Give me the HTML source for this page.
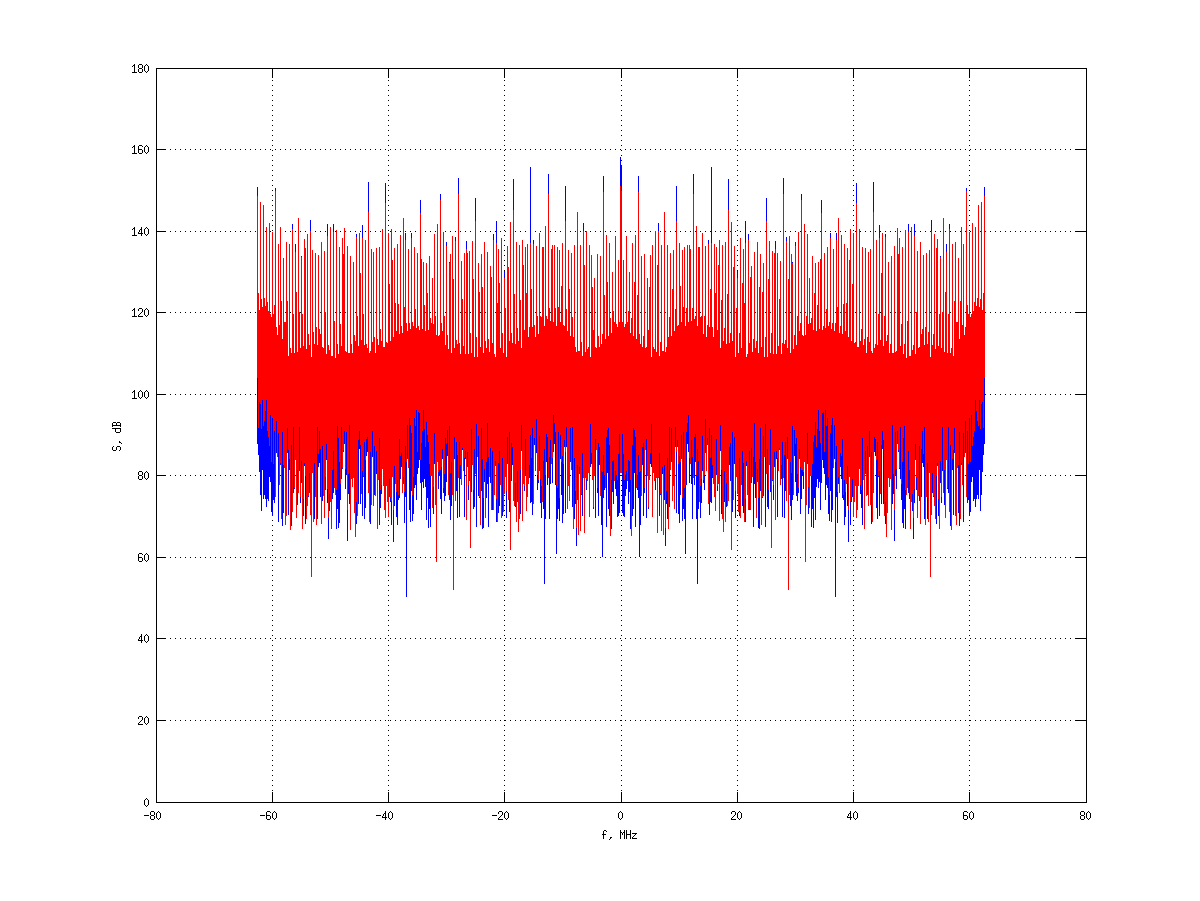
<!DOCTYPE html>
<html><head><meta charset="utf-8"><style>
html,body{margin:0;padding:0;background:#fff;width:1200px;height:901px;overflow:hidden}
svg{display:block}
</style></head><body>
<svg width="1200" height="901" viewBox="0 0 1200 901" shape-rendering="crispEdges">
<rect width="1200" height="901" fill="#fff"/>
<path d="M170 720.5H1071M170 638.5H1071M170 557.5H1071M170 475.5H1071M170 394.5H1071M170 312.5H1071M170 231.5H1071M170 149.5H1071M272.5 80V791M388.5 80V791M504.5 80V791M621.5 80V791M737.5 80V791M853.5 80V791M969.5 80V791" stroke="#000" stroke-width="1" stroke-dasharray="1 4" fill="none"/>
<path d="M257.5 187V444M258.5 306V455M259.5 318V472M260.5 250V495M261.5 312V511M262.5 315V470M263.5 252V499M264.5 310V495M265.5 314V499M266.5 231V507M267.5 314V499M268.5 319V501M269.5 227V477M270.5 326V482M271.5 325V512M272.5 236V516M273.5 326V500M274.5 313V503M275.5 188V497M276.5 339V453M277.5 343V456M278.5 248V522M279.5 337V464M280.5 256V465M281.5 314V457M282.5 348V526M283.5 262V513M284.5 334V449M285.5 330V514M286.5 246V486M287.5 313V453M288.5 364V515M289.5 249V470M290.5 360V517M291.5 361V526M292.5 224V475M293.5 326V493M294.5 361V489M295.5 244V460M296.5 304V459M297.5 360V505M298.5 222V458M299.5 324V471M300.5 356V503M301.5 256V483M302.5 326V446M303.5 355V516M304.5 243V466M305.5 260V524M306.5 357V449M307.5 238V449M308.5 346V497M309.5 353V493M310.5 220V452M311.5 369V491M312.5 254V445M313.5 345V506M314.5 353V519M315.5 257V487M316.5 339V514M317.5 354V519M318.5 259V467M319.5 342V463M320.5 342V497M321.5 246V520M322.5 360V501M323.5 356V472M324.5 255V490M325.5 324V490M326.5 362V460M327.5 224V503M328.5 357V539M329.5 359V511M330.5 244V456M331.5 368V490M332.5 364V499M333.5 224V493M334.5 334V463M335.5 366V449M336.5 234V529M337.5 356V509M338.5 362V528M339.5 251V523M340.5 336V500M341.5 354V479M342.5 242V469M343.5 266V452M344.5 232V444M345.5 363V489M346.5 361V475M347.5 250V541M348.5 366V494M349.5 361V504M350.5 260V473M351.5 356V455M352.5 362V480M353.5 266V465M354.5 348V478M355.5 349V508M356.5 234V524M357.5 328V464M358.5 354V504M359.5 237V449M360.5 285V504M361.5 348V476M362.5 225V516M363.5 327V477M364.5 353V519M365.5 244V508M366.5 356V456M367.5 356V452M368.5 182V452M369.5 366V485M370.5 360V524M371.5 253V454M372.5 354V457M373.5 252V444M374.5 349V495M375.5 361V478M376.5 252V474M377.5 351V484M378.5 353V466M379.5 252V525M380.5 341V508M381.5 349V494M382.5 268V458M383.5 359V479M384.5 355V448M385.5 183V496M386.5 354V449M387.5 351V482M388.5 237V481M389.5 296V497M390.5 350V502M391.5 233V525M392.5 273V464M393.5 345V542M394.5 253V506M395.5 315V445M396.5 339V517M397.5 248V525M398.5 317V500M399.5 342V498M400.5 239V479M401.5 339V467M402.5 341V465M403.5 237V484M404.5 319V523M405.5 233V497M406.5 335V597M407.5 339V459M408.5 253V447M409.5 335V510M410.5 337V522M411.5 233V491M412.5 335V521M413.5 334V514M414.5 251V488M415.5 322V485M416.5 336V500M417.5 257V474M418.5 338V468M419.5 338V460M420.5 200V483M421.5 271V510M422.5 337V482M423.5 266V488M424.5 317V479M425.5 339V487M426.5 267V520M427.5 305V498M428.5 338V528M429.5 260V509M430.5 331V527M431.5 331V448M432.5 282V486M433.5 336V514M434.5 238V464M435.5 328V497M436.5 344V455M437.5 228V451M438.5 348V489M439.5 343V476M440.5 194V499M441.5 335V514M442.5 339V459M443.5 236V493M444.5 329V501M445.5 354V496M446.5 242V482M447.5 347V456M448.5 358V488M449.5 262V500M450.5 266V520M451.5 361V506M452.5 240V447M453.5 291V485M454.5 356V459M455.5 237V481M456.5 352V491M457.5 352V518M458.5 178V450M459.5 356V517M460.5 362V479M461.5 265V449M462.5 312V450M463.5 354V460M464.5 258V517M465.5 366V459M466.5 241V507M467.5 266V467M468.5 362V500M469.5 255V481M470.5 345V521M471.5 361V492M472.5 245V448M473.5 291V509M474.5 365V507M475.5 198V474M476.5 349V527M477.5 366V455M478.5 267V496M479.5 304V498M480.5 355V516M481.5 258V491M482.5 300V529M483.5 361V528M484.5 246V482M485.5 354V464M486.5 356V498M487.5 256V484M488.5 352V527M489.5 360V476M490.5 270V483M491.5 289V483M492.5 351V510M493.5 234V498M494.5 366V446M495.5 365V466M496.5 221V522M497.5 315V508M498.5 253V513M499.5 296V506M500.5 356V480M501.5 242V494M502.5 345V516M503.5 361V461M504.5 271V447M505.5 320V468M506.5 365V518M507.5 250V464M508.5 279V457M509.5 350V512M510.5 226V503M511.5 346V481M512.5 352V465M513.5 179V493M514.5 306V461M515.5 352V507M516.5 246V463M517.5 340V502M518.5 350V454M519.5 249V479M520.5 312V514M521.5 356V451M522.5 244V464M523.5 278V446M524.5 338V491M525.5 251V475M526.5 306V507M527.5 248V494M528.5 349V479M529.5 335V478M530.5 167V503M531.5 301V502M532.5 335V515M533.5 240V466M534.5 337V445M535.5 345V454M536.5 250V453M537.5 328V490M538.5 342V483M539.5 237V471M540.5 328V503M541.5 325V518M542.5 251V500M543.5 259V509M544.5 334V584M545.5 230V519M546.5 328V462M547.5 327V485M548.5 174V449M549.5 320V519M550.5 329V484M551.5 253V457M552.5 258V483M553.5 330V452M554.5 250V444M555.5 320V485M556.5 334V554M557.5 251V519M558.5 320V509M559.5 254V521M560.5 335V459M561.5 294V495M562.5 247V523M563.5 338V514M564.5 334V447M565.5 186V513M566.5 321V447M567.5 339V472M568.5 254V445M569.5 302V496M570.5 344V462M571.5 257V462M572.5 329V507M573.5 345V459M574.5 249V519M575.5 360V504M576.5 361V546M577.5 216V500M578.5 363V496M579.5 359V474M580.5 249V516M581.5 355V495M582.5 364V516M583.5 223V451M584.5 278V527M585.5 360V458M586.5 235V490M587.5 361V479M588.5 355V444M589.5 249V514M590.5 370V467M591.5 260V464M592.5 299V475M593.5 338V509M594.5 282V455M595.5 359V518M596.5 356V445M597.5 258V493M598.5 348V516M599.5 355V465M600.5 260V486M601.5 356V525M602.5 342V557M603.5 176V498M604.5 308V490M605.5 347V454M606.5 239V527M607.5 294V473M608.5 344V509M609.5 247V516M610.5 330V478M611.5 341V529M612.5 276V492M613.5 323V504M614.5 330V479M615.5 240V489M616.5 336V496M617.5 335V517M618.5 264V516M619.5 334V513M620.5 157V456M621.5 165V456M622.5 334V513M623.5 264V516M624.5 335V517M625.5 336V496M626.5 240V489M627.5 330V479M628.5 323V504M629.5 276V492M630.5 341V529M631.5 330V478M632.5 247V516M633.5 344V509M634.5 294V473M635.5 239V527M636.5 347V454M637.5 308V490M638.5 176V498M639.5 342V557M640.5 356V525M641.5 260V486M642.5 355V465M643.5 348V516M644.5 258V493M645.5 356V445M646.5 359V518M647.5 282V455M648.5 338V509M649.5 299V475M650.5 260V464M651.5 370V467M652.5 249V514M653.5 355V444M654.5 361V479M655.5 235V490M656.5 360V458M657.5 278V527M658.5 223V451M659.5 364V516M660.5 355V495M661.5 249V516M662.5 359V474M663.5 363V496M664.5 216V500M665.5 361V546M666.5 360V504M667.5 249V519M668.5 345V459M669.5 329V507M670.5 257V462M671.5 344V462M672.5 302V496M673.5 254V445M674.5 339V472M675.5 321V447M676.5 186V513M677.5 334V447M678.5 338V514M679.5 247V523M680.5 294V495M681.5 335V459M682.5 254V521M683.5 320V509M684.5 251V519M685.5 334V554M686.5 320V485M687.5 250V444M688.5 330V452M689.5 258V483M690.5 253V457M691.5 329V484M692.5 320V519M693.5 174V449M694.5 327V485M695.5 328V462M696.5 230V519M697.5 334V584M698.5 259V509M699.5 251V500M700.5 325V518M701.5 328V503M702.5 237V471M703.5 342V483M704.5 328V490M705.5 250V453M706.5 345V454M707.5 337V445M708.5 240V466M709.5 335V515M710.5 301V502M711.5 167V503M712.5 335V478M713.5 349V479M714.5 248V494M715.5 306V507M716.5 251V475M717.5 338V491M718.5 278V446M719.5 244V464M720.5 356V451M721.5 312V514M722.5 249V479M723.5 350V454M724.5 340V502M725.5 246V463M726.5 352V507M727.5 306V461M728.5 179V493M729.5 352V465M730.5 346V481M731.5 226V503M732.5 350V512M733.5 279V457M734.5 250V464M735.5 365V518M736.5 320V468M737.5 271V447M738.5 361V461M739.5 345V516M740.5 242V494M741.5 356V480M742.5 296V506M743.5 253V513M744.5 315V508M745.5 221V522M746.5 365V466M747.5 366V446M748.5 234V498M749.5 351V510M750.5 289V483M751.5 270V483M752.5 360V476M753.5 352V527M754.5 256V484M755.5 356V498M756.5 354V464M757.5 246V482M758.5 361V528M759.5 300V529M760.5 258V491M761.5 355V516M762.5 304V498M763.5 267V496M764.5 366V455M765.5 349V527M766.5 198V474M767.5 365V507M768.5 291V509M769.5 245V448M770.5 361V492M771.5 345V521M772.5 255V481M773.5 362V500M774.5 266V467M775.5 241V507M776.5 366V459M777.5 258V517M778.5 354V460M779.5 312V450M780.5 265V449M781.5 362V479M782.5 356V517M783.5 178V450M784.5 352V518M785.5 352V491M786.5 237V481M787.5 356V459M788.5 291V485M789.5 240V447M790.5 361V506M791.5 266V520M792.5 262V500M793.5 358V488M794.5 347V456M795.5 242V482M796.5 354V496M797.5 329V501M798.5 236V493M799.5 339V459M800.5 335V514M801.5 194V499M802.5 343V476M803.5 348V489M804.5 228V451M805.5 344V455M806.5 328V497M807.5 238V464M808.5 336V514M809.5 282V486M810.5 331V448M811.5 331V527M812.5 260V509M813.5 338V528M814.5 305V498M815.5 267V520M816.5 339V487M817.5 317V479M818.5 266V488M819.5 337V482M820.5 271V510M821.5 200V483M822.5 338V460M823.5 338V468M824.5 257V474M825.5 336V500M826.5 322V485M827.5 251V488M828.5 334V514M829.5 335V521M830.5 233V491M831.5 337V522M832.5 335V510M833.5 253V447M834.5 339V459M835.5 335V597M836.5 233V497M837.5 319V523M838.5 237V484M839.5 341V465M840.5 339V467M841.5 239V479M842.5 342V498M843.5 317V500M844.5 248V525M845.5 339V517M846.5 315V445M847.5 253V506M848.5 345V542M849.5 273V464M850.5 233V525M851.5 350V502M852.5 296V497M853.5 237V481M854.5 351V482M855.5 354V449M856.5 183V496M857.5 355V448M858.5 359V479M859.5 268V458M860.5 349V494M861.5 341V508M862.5 252V525M863.5 353V466M864.5 351V484M865.5 252V474M866.5 361V478M867.5 349V495M868.5 252V444M869.5 354V457M870.5 253V454M871.5 360V524M872.5 366V485M873.5 182V452M874.5 356V452M875.5 356V456M876.5 244V508M877.5 353V519M878.5 327V477M879.5 225V516M880.5 348V476M881.5 285V504M882.5 237V449M883.5 354V504M884.5 328V464M885.5 234V524M886.5 349V508M887.5 348V478M888.5 266V465M889.5 362V480M890.5 356V455M891.5 260V473M892.5 361V504M893.5 366V494M894.5 250V541M895.5 361V475M896.5 363V489M897.5 232V444M898.5 266V452M899.5 242V469M900.5 354V479M901.5 336V500M902.5 251V523M903.5 362V528M904.5 356V509M905.5 234V529M906.5 366V449M907.5 334V463M908.5 224V493M909.5 364V499M910.5 368V490M911.5 244V456M912.5 359V511M913.5 357V539M914.5 224V503M915.5 362V460M916.5 324V490M917.5 255V490M918.5 356V472M919.5 360V501M920.5 246V520M921.5 342V497M922.5 342V463M923.5 259V467M924.5 354V519M925.5 339V514M926.5 257V487M927.5 353V519M928.5 345V506M929.5 254V445M930.5 369V491M931.5 220V452M932.5 353V493M933.5 346V497M934.5 238V449M935.5 357V449M936.5 260V524M937.5 243V466M938.5 355V516M939.5 326V446M940.5 256V483M941.5 356V503M942.5 324V471M943.5 222V458M944.5 360V505M945.5 304V459M946.5 244V460M947.5 361V489M948.5 326V493M949.5 224V475M950.5 361V526M951.5 360V517M952.5 249V470M953.5 364V515M954.5 313V453M955.5 246V486M956.5 330V514M957.5 334V449M958.5 262V513M959.5 348V526M960.5 314V457M961.5 256V465M962.5 337V464M963.5 248V522M964.5 343V456M965.5 339V453M966.5 188V497M967.5 313V503M968.5 326V500M969.5 236V516M970.5 325V512M971.5 326V482M972.5 227V477M973.5 319V501M974.5 314V499M975.5 231V507M976.5 314V499M977.5 310V495M978.5 252V499M979.5 315V470M980.5 312V511M981.5 250V495M982.5 318V472M983.5 306V455M984.5 187V444" stroke="#0000ff" stroke-width="1" fill="none"/>
<path d="M257.5 196V378M258.5 293V428M259.5 310V402M260.5 202V404M261.5 299V429M262.5 307V400M263.5 205V426M264.5 298V421M265.5 306V411M266.5 227V400M267.5 302V431M268.5 311V437M269.5 223V446M270.5 314V415M271.5 317V462M272.5 232V418M273.5 314V464M274.5 305V431M275.5 191V497M276.5 327V421M277.5 335V457M278.5 244V433M279.5 325V485M280.5 227V463M281.5 301V519M282.5 339V432M283.5 258V465M284.5 322V468M285.5 322V525M286.5 242V516M287.5 301V428M288.5 356V450M289.5 244V459M290.5 348V530M291.5 353V445M292.5 229V512M293.5 314V427M294.5 353V488M295.5 252V460M296.5 292V518M297.5 352V470M298.5 218V493M299.5 312V427M300.5 348V497M301.5 257V461M302.5 314V529M303.5 346V499M304.5 239V463M305.5 248V476M306.5 349V519M307.5 234V506M308.5 334V496M309.5 345V473M310.5 231V515M311.5 357V577M312.5 250V473M313.5 332V522M314.5 344V463M315.5 253V497M316.5 327V525M317.5 345V427M318.5 255V454M319.5 329V431M320.5 334V449M321.5 242V524M322.5 347V446M323.5 348V496M324.5 251V518M325.5 312V477M326.5 354V444M327.5 236V489M328.5 345V518M329.5 350V494M330.5 227V502M331.5 356V529M332.5 356V470M333.5 232V451M334.5 321V488M335.5 358V495M336.5 230V490M337.5 344V426M338.5 354V438M339.5 247V462M340.5 324V484M341.5 346V427M342.5 238V468M343.5 254V450M344.5 228V431M345.5 351V469M346.5 352V432M347.5 246V510M348.5 353V474M349.5 353V425M350.5 256V530M351.5 344V479M352.5 353V487M353.5 262V478M354.5 335V513M355.5 341V537M356.5 237V502M357.5 316V516M358.5 346V440M359.5 233V431M360.5 273V445M361.5 340V494M362.5 238V471M363.5 314V476M364.5 345V442M365.5 240V460M366.5 344V439M367.5 348V437M368.5 212V493M369.5 353V522M370.5 351V452M371.5 249V505M372.5 342V431M373.5 252V506M374.5 337V446M375.5 353V496M376.5 248V451M377.5 339V529M378.5 345V480M379.5 247V438M380.5 329V490M381.5 341V485M382.5 229V469M383.5 347V486M384.5 347V510M385.5 203V518M386.5 342V486M387.5 343V502M388.5 233V517M389.5 284V479M390.5 341V497M391.5 229V501M392.5 260V477M393.5 337V510M394.5 248V466M395.5 303V484M396.5 331V492M397.5 244V480M398.5 304V495M399.5 334V439M400.5 235V456M401.5 326V453M402.5 333V493M403.5 218V477M404.5 307V492M405.5 240V446M406.5 323V462M407.5 331V425M408.5 249V468M409.5 323V418M410.5 329V425M411.5 238V433M412.5 322V495M413.5 326V477M414.5 247V418M415.5 309V426M416.5 328V410M417.5 253V452M418.5 326V412M419.5 330V413M420.5 213V460M421.5 259V443M422.5 329V431M423.5 262V410M424.5 305V429M425.5 331V447M426.5 263V422M427.5 293V435M428.5 330V442M429.5 256V464M430.5 318V476M431.5 323V476M432.5 278V508M433.5 324V487M434.5 234V433M435.5 316V505M436.5 335V562M437.5 224V462M438.5 336V472M439.5 335V470M440.5 200V470M441.5 323V467M442.5 331V449M443.5 232V488M444.5 316V474M445.5 345V438M446.5 246V444M447.5 335V430M448.5 349V495M449.5 263V426M450.5 254V473M451.5 353V462M452.5 236V495M453.5 279V590M454.5 348V437M455.5 241V501M456.5 340V442M457.5 344V455M458.5 194V478M459.5 343V442M460.5 354V465M461.5 261V485M462.5 299V448M463.5 346V471M464.5 253V458M465.5 354V451M466.5 249V520M467.5 253V452M468.5 354V485M469.5 251V480M470.5 333V548M471.5 353V429M472.5 241V465M473.5 279V490M474.5 357V449M475.5 221V474M476.5 337V424M477.5 357V457M478.5 263V436M479.5 292V497M480.5 347V525M481.5 254V428M482.5 287V459M483.5 353V498M484.5 242V469M485.5 341V518M486.5 348V462M487.5 252V423M488.5 339V457M489.5 352V477M490.5 266V448M491.5 277V510M492.5 343V451M493.5 240V510M494.5 354V495M495.5 357V461M496.5 243V499M497.5 303V522M498.5 249V463M499.5 283V451M500.5 348V485M501.5 238V518M502.5 333V458M503.5 353V512M504.5 278V494M505.5 308V477M506.5 357V491M507.5 246V437M508.5 267V500M509.5 341V432M510.5 222V550M511.5 333V443M512.5 343V447M513.5 210V501M514.5 294V506M515.5 344V483M516.5 242V522M517.5 328V471M518.5 341V532M519.5 245V519M520.5 300V470M521.5 348V425M522.5 240V521M523.5 265V484M524.5 330V486M525.5 247V439M526.5 293V511M527.5 244V497M528.5 337V484M529.5 327V465M530.5 243V435M531.5 289V458M532.5 327V428M533.5 244V504M534.5 325V438M535.5 337V471M536.5 246V419M537.5 316V475M538.5 334V480M539.5 233V436M540.5 316V479M541.5 317V486M542.5 247V502M543.5 247V461M544.5 326V449M545.5 226V475M546.5 316V434M547.5 319V437M548.5 194V478M549.5 308V457M550.5 321V440M551.5 249V464M552.5 245V458M553.5 322V415M554.5 245V423M555.5 308V432M556.5 326V485M557.5 247V488M558.5 307V432M559.5 250V498M560.5 322V435M561.5 286V462M562.5 243V456M563.5 325V464M564.5 326V440M565.5 221V452M566.5 309V427M567.5 331V509M568.5 250V486M569.5 289V501M570.5 336V428M571.5 253V470M572.5 317V427M573.5 337V529M574.5 245V458M575.5 347V491M576.5 352V528M577.5 212V465M578.5 351V535M579.5 351V467M580.5 245V531M581.5 342V494M582.5 356V453M583.5 231V478M584.5 265V533M585.5 352V478M586.5 231V479M587.5 349V481M588.5 347V473M589.5 245V517M590.5 357V424M591.5 255V453M592.5 287V480M593.5 330V507M594.5 278V476M595.5 347V439M596.5 348V450M597.5 254V488M598.5 336V443M599.5 347V447M600.5 256V496M601.5 344V471M602.5 334V472M603.5 192V455M604.5 295V475M605.5 339V488M606.5 235V437M607.5 282V430M608.5 336V428M609.5 243V445M610.5 318V536M611.5 333V480M612.5 272V461M613.5 311V460M614.5 322V481M615.5 236V471M616.5 324V475M617.5 327V480M618.5 260V454M619.5 322V434M620.5 186V473M621.5 191V473M622.5 322V434M623.5 260V454M624.5 327V480M625.5 324V475M626.5 236V471M627.5 322V481M628.5 311V460M629.5 272V461M630.5 333V480M631.5 318V536M632.5 243V445M633.5 336V428M634.5 282V430M635.5 235V437M636.5 339V488M637.5 295V475M638.5 192V455M639.5 334V472M640.5 344V471M641.5 256V496M642.5 347V447M643.5 336V443M644.5 254V488M645.5 348V450M646.5 347V439M647.5 278V476M648.5 330V507M649.5 287V480M650.5 255V453M651.5 357V424M652.5 245V517M653.5 347V473M654.5 349V481M655.5 231V479M656.5 352V478M657.5 265V533M658.5 231V478M659.5 356V453M660.5 342V494M661.5 245V531M662.5 351V467M663.5 351V535M664.5 212V465M665.5 352V528M666.5 347V491M667.5 245V458M668.5 337V529M669.5 317V427M670.5 253V470M671.5 336V428M672.5 289V501M673.5 250V486M674.5 331V509M675.5 309V427M676.5 221V452M677.5 326V440M678.5 325V464M679.5 243V456M680.5 286V462M681.5 322V435M682.5 250V498M683.5 307V432M684.5 247V488M685.5 326V485M686.5 308V432M687.5 245V423M688.5 322V415M689.5 245V458M690.5 249V464M691.5 321V440M692.5 308V457M693.5 194V478M694.5 319V437M695.5 316V434M696.5 226V475M697.5 326V449M698.5 247V461M699.5 247V502M700.5 317V486M701.5 316V479M702.5 233V436M703.5 334V480M704.5 316V475M705.5 246V419M706.5 337V471M707.5 325V438M708.5 244V504M709.5 327V428M710.5 289V458M711.5 243V435M712.5 327V465M713.5 337V484M714.5 244V497M715.5 293V511M716.5 247V439M717.5 330V486M718.5 265V484M719.5 240V521M720.5 348V425M721.5 300V470M722.5 245V519M723.5 341V532M724.5 328V471M725.5 242V522M726.5 344V483M727.5 294V506M728.5 210V501M729.5 343V447M730.5 333V443M731.5 222V550M732.5 341V432M733.5 267V500M734.5 246V437M735.5 357V491M736.5 308V477M737.5 278V494M738.5 353V512M739.5 333V458M740.5 238V518M741.5 348V485M742.5 283V451M743.5 249V463M744.5 303V522M745.5 243V499M746.5 357V461M747.5 354V495M748.5 240V510M749.5 343V451M750.5 277V510M751.5 266V448M752.5 352V477M753.5 339V457M754.5 252V423M755.5 348V462M756.5 341V518M757.5 242V469M758.5 353V498M759.5 287V459M760.5 254V428M761.5 347V525M762.5 292V497M763.5 263V436M764.5 357V457M765.5 337V424M766.5 221V474M767.5 357V449M768.5 279V490M769.5 241V465M770.5 353V429M771.5 333V548M772.5 251V480M773.5 354V485M774.5 253V452M775.5 249V520M776.5 354V451M777.5 253V458M778.5 346V471M779.5 299V448M780.5 261V485M781.5 354V465M782.5 343V442M783.5 194V478M784.5 344V455M785.5 340V442M786.5 241V501M787.5 348V437M788.5 279V590M789.5 236V495M790.5 353V462M791.5 254V473M792.5 263V426M793.5 349V495M794.5 335V430M795.5 246V444M796.5 345V438M797.5 316V474M798.5 232V488M799.5 331V449M800.5 323V467M801.5 200V470M802.5 335V470M803.5 336V472M804.5 224V462M805.5 335V562M806.5 316V505M807.5 234V433M808.5 324V487M809.5 278V508M810.5 323V476M811.5 318V476M812.5 256V464M813.5 330V442M814.5 293V435M815.5 263V422M816.5 331V447M817.5 305V429M818.5 262V410M819.5 329V431M820.5 259V443M821.5 213V460M822.5 330V413M823.5 326V412M824.5 253V452M825.5 328V410M826.5 309V426M827.5 247V418M828.5 326V477M829.5 322V495M830.5 238V433M831.5 329V425M832.5 323V418M833.5 249V468M834.5 331V425M835.5 323V462M836.5 240V446M837.5 307V492M838.5 218V477M839.5 333V493M840.5 326V453M841.5 235V456M842.5 334V439M843.5 304V495M844.5 244V480M845.5 331V492M846.5 303V484M847.5 248V466M848.5 337V510M849.5 260V477M850.5 229V501M851.5 341V497M852.5 284V479M853.5 233V517M854.5 343V502M855.5 342V486M856.5 203V518M857.5 347V510M858.5 347V486M859.5 229V469M860.5 341V485M861.5 329V490M862.5 247V438M863.5 345V480M864.5 339V529M865.5 248V451M866.5 353V496M867.5 337V446M868.5 252V506M869.5 342V431M870.5 249V505M871.5 351V452M872.5 353V522M873.5 212V493M874.5 348V437M875.5 344V439M876.5 240V460M877.5 345V442M878.5 314V476M879.5 238V471M880.5 340V494M881.5 273V445M882.5 233V431M883.5 346V440M884.5 316V516M885.5 237V502M886.5 341V537M887.5 335V513M888.5 262V478M889.5 353V487M890.5 344V479M891.5 256V530M892.5 353V425M893.5 353V474M894.5 246V510M895.5 352V432M896.5 351V469M897.5 228V431M898.5 254V450M899.5 238V468M900.5 346V427M901.5 324V484M902.5 247V462M903.5 354V438M904.5 344V426M905.5 230V490M906.5 358V495M907.5 321V488M908.5 232V451M909.5 356V470M910.5 356V529M911.5 227V502M912.5 350V494M913.5 345V518M914.5 236V489M915.5 354V444M916.5 312V477M917.5 251V518M918.5 348V496M919.5 347V446M920.5 242V524M921.5 334V449M922.5 329V431M923.5 255V454M924.5 345V427M925.5 327V525M926.5 253V497M927.5 344V463M928.5 332V522M929.5 250V473M930.5 357V577M931.5 231V515M932.5 345V473M933.5 334V496M934.5 234V506M935.5 349V519M936.5 248V476M937.5 239V463M938.5 346V499M939.5 314V529M940.5 257V461M941.5 348V497M942.5 312V427M943.5 218V493M944.5 352V470M945.5 292V518M946.5 252V460M947.5 353V488M948.5 314V427M949.5 229V512M950.5 353V445M951.5 348V530M952.5 244V459M953.5 356V450M954.5 301V428M955.5 242V516M956.5 322V525M957.5 322V468M958.5 258V465M959.5 339V432M960.5 301V519M961.5 227V463M962.5 325V485M963.5 244V433M964.5 335V457M965.5 327V421M966.5 191V497M967.5 305V431M968.5 314V464M969.5 232V418M970.5 317V462M971.5 314V415M972.5 223V446M973.5 311V437M974.5 302V431M975.5 227V400M976.5 306V411M977.5 298V421M978.5 205V426M979.5 307V400M980.5 299V429M981.5 202V404M982.5 310V402M983.5 293V428M984.5 196V378" stroke="#ff0000" stroke-width="1" fill="none"/>
<path d="M156.5 68.5H1086.5V802.5H156.5ZM156 802.5H166M1075 802.5H1086M156 720.5H166M1075 720.5H1086M156 638.5H166M1075 638.5H1086M156 557.5H166M1075 557.5H1086M156 475.5H166M1075 475.5H1086M156 394.5H166M1075 394.5H1086M156 312.5H166M1075 312.5H1086M156 231.5H166M1075 231.5H1086M156 149.5H166M1075 149.5H1086M156 68.5H166M1075 68.5H1086M156.5 68V78M156.5 792V802M272.5 68V78M272.5 792V802M388.5 68V78M388.5 792V802M504.5 68V78M504.5 792V802M621.5 68V78M621.5 792V802M737.5 68V78M737.5 792V802M853.5 68V78M853.5 792V802M969.5 68V78M969.5 792V802M1086.5 68V78M1086.5 792V802" stroke="#000" stroke-width="1" fill="none"/>
<path d="M146 798h1v1h-1zM145 799h1v1h-1zM147 799h1v1h-1zM144 800h1v1h-1zM148 800h1v1h-1zM144 801h1v1h-1zM148 801h1v1h-1zM144 802h1v1h-1zM148 802h1v1h-1zM144 803h1v1h-1zM148 803h1v1h-1zM144 804h1v1h-1zM148 804h1v1h-1zM145 805h1v1h-1zM147 805h1v1h-1zM146 806h1v1h-1zM139 716h3v1h-3zM138 717h1v1h-1zM142 717h1v1h-1zM138 718h1v1h-1zM142 718h1v1h-1zM142 719h1v1h-1zM141 720h1v1h-1zM140 721h1v1h-1zM139 722h1v1h-1zM138 723h1v1h-1zM138 724h5v1h-5zM146 716h1v1h-1zM145 717h1v1h-1zM147 717h1v1h-1zM144 718h1v1h-1zM148 718h1v1h-1zM144 719h1v1h-1zM148 719h1v1h-1zM144 720h1v1h-1zM148 720h1v1h-1zM144 721h1v1h-1zM148 721h1v1h-1zM144 722h1v1h-1zM148 722h1v1h-1zM145 723h1v1h-1zM147 723h1v1h-1zM146 724h1v1h-1zM141 634h1v1h-1zM141 635h1v1h-1zM140 636h2v1h-2zM139 637h1v1h-1zM141 637h1v1h-1zM139 638h1v1h-1zM141 638h1v1h-1zM138 639h1v1h-1zM141 639h1v1h-1zM138 640h5v1h-5zM141 641h1v1h-1zM141 642h1v1h-1zM146 634h1v1h-1zM145 635h1v1h-1zM147 635h1v1h-1zM144 636h1v1h-1zM148 636h1v1h-1zM144 637h1v1h-1zM148 637h1v1h-1zM144 638h1v1h-1zM148 638h1v1h-1zM144 639h1v1h-1zM148 639h1v1h-1zM144 640h1v1h-1zM148 640h1v1h-1zM145 641h1v1h-1zM147 641h1v1h-1zM146 642h1v1h-1zM139 553h3v1h-3zM138 554h1v1h-1zM142 554h1v1h-1zM138 555h1v1h-1zM138 556h1v1h-1zM138 557h4v1h-4zM138 558h1v1h-1zM142 558h1v1h-1zM138 559h1v1h-1zM142 559h1v1h-1zM138 560h1v1h-1zM142 560h1v1h-1zM139 561h3v1h-3zM146 553h1v1h-1zM145 554h1v1h-1zM147 554h1v1h-1zM144 555h1v1h-1zM148 555h1v1h-1zM144 556h1v1h-1zM148 556h1v1h-1zM144 557h1v1h-1zM148 557h1v1h-1zM144 558h1v1h-1zM148 558h1v1h-1zM144 559h1v1h-1zM148 559h1v1h-1zM145 560h1v1h-1zM147 560h1v1h-1zM146 561h1v1h-1zM139 471h3v1h-3zM138 472h1v1h-1zM142 472h1v1h-1zM138 473h1v1h-1zM142 473h1v1h-1zM138 474h1v1h-1zM142 474h1v1h-1zM139 475h3v1h-3zM138 476h1v1h-1zM142 476h1v1h-1zM138 477h1v1h-1zM142 477h1v1h-1zM138 478h1v1h-1zM142 478h1v1h-1zM139 479h3v1h-3zM146 471h1v1h-1zM145 472h1v1h-1zM147 472h1v1h-1zM144 473h1v1h-1zM148 473h1v1h-1zM144 474h1v1h-1zM148 474h1v1h-1zM144 475h1v1h-1zM148 475h1v1h-1zM144 476h1v1h-1zM148 476h1v1h-1zM144 477h1v1h-1zM148 477h1v1h-1zM145 478h1v1h-1zM147 478h1v1h-1zM146 479h1v1h-1zM134 390h1v1h-1zM133 391h2v1h-2zM132 392h1v1h-1zM134 392h1v1h-1zM134 393h1v1h-1zM134 394h1v1h-1zM134 395h1v1h-1zM134 396h1v1h-1zM134 397h1v1h-1zM132 398h5v1h-5zM140 390h1v1h-1zM139 391h1v1h-1zM141 391h1v1h-1zM138 392h1v1h-1zM142 392h1v1h-1zM138 393h1v1h-1zM142 393h1v1h-1zM138 394h1v1h-1zM142 394h1v1h-1zM138 395h1v1h-1zM142 395h1v1h-1zM138 396h1v1h-1zM142 396h1v1h-1zM139 397h1v1h-1zM141 397h1v1h-1zM140 398h1v1h-1zM146 390h1v1h-1zM145 391h1v1h-1zM147 391h1v1h-1zM144 392h1v1h-1zM148 392h1v1h-1zM144 393h1v1h-1zM148 393h1v1h-1zM144 394h1v1h-1zM148 394h1v1h-1zM144 395h1v1h-1zM148 395h1v1h-1zM144 396h1v1h-1zM148 396h1v1h-1zM145 397h1v1h-1zM147 397h1v1h-1zM146 398h1v1h-1zM134 308h1v1h-1zM133 309h2v1h-2zM132 310h1v1h-1zM134 310h1v1h-1zM134 311h1v1h-1zM134 312h1v1h-1zM134 313h1v1h-1zM134 314h1v1h-1zM134 315h1v1h-1zM132 316h5v1h-5zM139 308h3v1h-3zM138 309h1v1h-1zM142 309h1v1h-1zM138 310h1v1h-1zM142 310h1v1h-1zM142 311h1v1h-1zM141 312h1v1h-1zM140 313h1v1h-1zM139 314h1v1h-1zM138 315h1v1h-1zM138 316h5v1h-5zM146 308h1v1h-1zM145 309h1v1h-1zM147 309h1v1h-1zM144 310h1v1h-1zM148 310h1v1h-1zM144 311h1v1h-1zM148 311h1v1h-1zM144 312h1v1h-1zM148 312h1v1h-1zM144 313h1v1h-1zM148 313h1v1h-1zM144 314h1v1h-1zM148 314h1v1h-1zM145 315h1v1h-1zM147 315h1v1h-1zM146 316h1v1h-1zM134 227h1v1h-1zM133 228h2v1h-2zM132 229h1v1h-1zM134 229h1v1h-1zM134 230h1v1h-1zM134 231h1v1h-1zM134 232h1v1h-1zM134 233h1v1h-1zM134 234h1v1h-1zM132 235h5v1h-5zM141 227h1v1h-1zM141 228h1v1h-1zM140 229h2v1h-2zM139 230h1v1h-1zM141 230h1v1h-1zM139 231h1v1h-1zM141 231h1v1h-1zM138 232h1v1h-1zM141 232h1v1h-1zM138 233h5v1h-5zM141 234h1v1h-1zM141 235h1v1h-1zM146 227h1v1h-1zM145 228h1v1h-1zM147 228h1v1h-1zM144 229h1v1h-1zM148 229h1v1h-1zM144 230h1v1h-1zM148 230h1v1h-1zM144 231h1v1h-1zM148 231h1v1h-1zM144 232h1v1h-1zM148 232h1v1h-1zM144 233h1v1h-1zM148 233h1v1h-1zM145 234h1v1h-1zM147 234h1v1h-1zM146 235h1v1h-1zM134 145h1v1h-1zM133 146h2v1h-2zM132 147h1v1h-1zM134 147h1v1h-1zM134 148h1v1h-1zM134 149h1v1h-1zM134 150h1v1h-1zM134 151h1v1h-1zM134 152h1v1h-1zM132 153h5v1h-5zM139 145h3v1h-3zM138 146h1v1h-1zM142 146h1v1h-1zM138 147h1v1h-1zM138 148h1v1h-1zM138 149h4v1h-4zM138 150h1v1h-1zM142 150h1v1h-1zM138 151h1v1h-1zM142 151h1v1h-1zM138 152h1v1h-1zM142 152h1v1h-1zM139 153h3v1h-3zM146 145h1v1h-1zM145 146h1v1h-1zM147 146h1v1h-1zM144 147h1v1h-1zM148 147h1v1h-1zM144 148h1v1h-1zM148 148h1v1h-1zM144 149h1v1h-1zM148 149h1v1h-1zM144 150h1v1h-1zM148 150h1v1h-1zM144 151h1v1h-1zM148 151h1v1h-1zM145 152h1v1h-1zM147 152h1v1h-1zM146 153h1v1h-1zM134 64h1v1h-1zM133 65h2v1h-2zM132 66h1v1h-1zM134 66h1v1h-1zM134 67h1v1h-1zM134 68h1v1h-1zM134 69h1v1h-1zM134 70h1v1h-1zM134 71h1v1h-1zM132 72h5v1h-5zM139 64h3v1h-3zM138 65h1v1h-1zM142 65h1v1h-1zM138 66h1v1h-1zM142 66h1v1h-1zM138 67h1v1h-1zM142 67h1v1h-1zM139 68h3v1h-3zM138 69h1v1h-1zM142 69h1v1h-1zM138 70h1v1h-1zM142 70h1v1h-1zM138 71h1v1h-1zM142 71h1v1h-1zM139 72h3v1h-3zM146 64h1v1h-1zM145 65h1v1h-1zM147 65h1v1h-1zM144 66h1v1h-1zM148 66h1v1h-1zM144 67h1v1h-1zM148 67h1v1h-1zM144 68h1v1h-1zM148 68h1v1h-1zM144 69h1v1h-1zM148 69h1v1h-1zM144 70h1v1h-1zM148 70h1v1h-1zM145 71h1v1h-1zM147 71h1v1h-1zM146 72h1v1h-1zM144 815h5v1h-5zM151 811h3v1h-3zM150 812h1v1h-1zM154 812h1v1h-1zM150 813h1v1h-1zM154 813h1v1h-1zM150 814h1v1h-1zM154 814h1v1h-1zM151 815h3v1h-3zM150 816h1v1h-1zM154 816h1v1h-1zM150 817h1v1h-1zM154 817h1v1h-1zM150 818h1v1h-1zM154 818h1v1h-1zM151 819h3v1h-3zM158 811h1v1h-1zM157 812h1v1h-1zM159 812h1v1h-1zM156 813h1v1h-1zM160 813h1v1h-1zM156 814h1v1h-1zM160 814h1v1h-1zM156 815h1v1h-1zM160 815h1v1h-1zM156 816h1v1h-1zM160 816h1v1h-1zM156 817h1v1h-1zM160 817h1v1h-1zM157 818h1v1h-1zM159 818h1v1h-1zM158 819h1v1h-1zM260 815h5v1h-5zM267 811h3v1h-3zM266 812h1v1h-1zM270 812h1v1h-1zM266 813h1v1h-1zM266 814h1v1h-1zM266 815h4v1h-4zM266 816h1v1h-1zM270 816h1v1h-1zM266 817h1v1h-1zM270 817h1v1h-1zM266 818h1v1h-1zM270 818h1v1h-1zM267 819h3v1h-3zM274 811h1v1h-1zM273 812h1v1h-1zM275 812h1v1h-1zM272 813h1v1h-1zM276 813h1v1h-1zM272 814h1v1h-1zM276 814h1v1h-1zM272 815h1v1h-1zM276 815h1v1h-1zM272 816h1v1h-1zM276 816h1v1h-1zM272 817h1v1h-1zM276 817h1v1h-1zM273 818h1v1h-1zM275 818h1v1h-1zM274 819h1v1h-1zM376 815h5v1h-5zM385 811h1v1h-1zM385 812h1v1h-1zM384 813h2v1h-2zM383 814h1v1h-1zM385 814h1v1h-1zM383 815h1v1h-1zM385 815h1v1h-1zM382 816h1v1h-1zM385 816h1v1h-1zM382 817h5v1h-5zM385 818h1v1h-1zM385 819h1v1h-1zM390 811h1v1h-1zM389 812h1v1h-1zM391 812h1v1h-1zM388 813h1v1h-1zM392 813h1v1h-1zM388 814h1v1h-1zM392 814h1v1h-1zM388 815h1v1h-1zM392 815h1v1h-1zM388 816h1v1h-1zM392 816h1v1h-1zM388 817h1v1h-1zM392 817h1v1h-1zM389 818h1v1h-1zM391 818h1v1h-1zM390 819h1v1h-1zM492 815h5v1h-5zM499 811h3v1h-3zM498 812h1v1h-1zM502 812h1v1h-1zM498 813h1v1h-1zM502 813h1v1h-1zM502 814h1v1h-1zM501 815h1v1h-1zM500 816h1v1h-1zM499 817h1v1h-1zM498 818h1v1h-1zM498 819h5v1h-5zM506 811h1v1h-1zM505 812h1v1h-1zM507 812h1v1h-1zM504 813h1v1h-1zM508 813h1v1h-1zM504 814h1v1h-1zM508 814h1v1h-1zM504 815h1v1h-1zM508 815h1v1h-1zM504 816h1v1h-1zM508 816h1v1h-1zM504 817h1v1h-1zM508 817h1v1h-1zM505 818h1v1h-1zM507 818h1v1h-1zM506 819h1v1h-1zM620 811h1v1h-1zM619 812h1v1h-1zM621 812h1v1h-1zM618 813h1v1h-1zM622 813h1v1h-1zM618 814h1v1h-1zM622 814h1v1h-1zM618 815h1v1h-1zM622 815h1v1h-1zM618 816h1v1h-1zM622 816h1v1h-1zM618 817h1v1h-1zM622 817h1v1h-1zM619 818h1v1h-1zM621 818h1v1h-1zM620 819h1v1h-1zM732 811h3v1h-3zM731 812h1v1h-1zM735 812h1v1h-1zM731 813h1v1h-1zM735 813h1v1h-1zM735 814h1v1h-1zM734 815h1v1h-1zM733 816h1v1h-1zM732 817h1v1h-1zM731 818h1v1h-1zM731 819h5v1h-5zM739 811h1v1h-1zM738 812h1v1h-1zM740 812h1v1h-1zM737 813h1v1h-1zM741 813h1v1h-1zM737 814h1v1h-1zM741 814h1v1h-1zM737 815h1v1h-1zM741 815h1v1h-1zM737 816h1v1h-1zM741 816h1v1h-1zM737 817h1v1h-1zM741 817h1v1h-1zM738 818h1v1h-1zM740 818h1v1h-1zM739 819h1v1h-1zM850 811h1v1h-1zM850 812h1v1h-1zM849 813h2v1h-2zM848 814h1v1h-1zM850 814h1v1h-1zM848 815h1v1h-1zM850 815h1v1h-1zM847 816h1v1h-1zM850 816h1v1h-1zM847 817h5v1h-5zM850 818h1v1h-1zM850 819h1v1h-1zM855 811h1v1h-1zM854 812h1v1h-1zM856 812h1v1h-1zM853 813h1v1h-1zM857 813h1v1h-1zM853 814h1v1h-1zM857 814h1v1h-1zM853 815h1v1h-1zM857 815h1v1h-1zM853 816h1v1h-1zM857 816h1v1h-1zM853 817h1v1h-1zM857 817h1v1h-1zM854 818h1v1h-1zM856 818h1v1h-1zM855 819h1v1h-1zM964 811h3v1h-3zM963 812h1v1h-1zM967 812h1v1h-1zM963 813h1v1h-1zM963 814h1v1h-1zM963 815h4v1h-4zM963 816h1v1h-1zM967 816h1v1h-1zM963 817h1v1h-1zM967 817h1v1h-1zM963 818h1v1h-1zM967 818h1v1h-1zM964 819h3v1h-3zM971 811h1v1h-1zM970 812h1v1h-1zM972 812h1v1h-1zM969 813h1v1h-1zM973 813h1v1h-1zM969 814h1v1h-1zM973 814h1v1h-1zM969 815h1v1h-1zM973 815h1v1h-1zM969 816h1v1h-1zM973 816h1v1h-1zM969 817h1v1h-1zM973 817h1v1h-1zM970 818h1v1h-1zM972 818h1v1h-1zM971 819h1v1h-1zM1081 811h3v1h-3zM1080 812h1v1h-1zM1084 812h1v1h-1zM1080 813h1v1h-1zM1084 813h1v1h-1zM1080 814h1v1h-1zM1084 814h1v1h-1zM1081 815h3v1h-3zM1080 816h1v1h-1zM1084 816h1v1h-1zM1080 817h1v1h-1zM1084 817h1v1h-1zM1080 818h1v1h-1zM1084 818h1v1h-1zM1081 819h3v1h-3zM1088 811h1v1h-1zM1087 812h1v1h-1zM1089 812h1v1h-1zM1086 813h1v1h-1zM1090 813h1v1h-1zM1086 814h1v1h-1zM1090 814h1v1h-1zM1086 815h1v1h-1zM1090 815h1v1h-1zM1086 816h1v1h-1zM1090 816h1v1h-1zM1086 817h1v1h-1zM1090 817h1v1h-1zM1087 818h1v1h-1zM1089 818h1v1h-1zM1088 819h1v1h-1zM604 830h2v1h-2zM603 831h1v1h-1zM606 831h1v1h-1zM603 832h1v1h-1zM603 833h1v1h-1zM602 834h4v1h-4zM603 835h1v1h-1zM603 836h1v1h-1zM603 837h1v1h-1zM603 838h1v1h-1zM610 837h2v1h-2zM610 838h1v1h-1zM609 839h1v1h-1zM620 830h1v1h-1zM624 830h1v1h-1zM620 831h1v1h-1zM624 831h1v1h-1zM620 832h2v1h-2zM623 832h2v1h-2zM620 833h1v1h-1zM622 833h1v1h-1zM624 833h1v1h-1zM620 834h1v1h-1zM622 834h1v1h-1zM624 834h1v1h-1zM620 835h1v1h-1zM624 835h1v1h-1zM620 836h1v1h-1zM624 836h1v1h-1zM620 837h1v1h-1zM624 837h1v1h-1zM620 838h1v1h-1zM624 838h1v1h-1zM626 830h1v1h-1zM630 830h1v1h-1zM626 831h1v1h-1zM630 831h1v1h-1zM626 832h1v1h-1zM630 832h1v1h-1zM626 833h1v1h-1zM630 833h1v1h-1zM626 834h5v1h-5zM626 835h1v1h-1zM630 835h1v1h-1zM626 836h1v1h-1zM630 836h1v1h-1zM626 837h1v1h-1zM630 837h1v1h-1zM626 838h1v1h-1zM630 838h1v1h-1zM632 833h5v1h-5zM635 834h1v1h-1zM634 835h1v1h-1zM633 836h1v1h-1zM632 837h1v1h-1zM632 838h5v1h-5zM112 449h1v1h-1zM112 448h1v1h-1zM112 447h1v1h-1zM113 450h1v1h-1zM113 446h1v1h-1zM114 450h1v1h-1zM115 450h1v1h-1zM116 449h1v1h-1zM116 448h1v1h-1zM116 447h1v1h-1zM117 446h1v1h-1zM118 446h1v1h-1zM119 450h1v1h-1zM119 446h1v1h-1zM120 449h1v1h-1zM120 448h1v1h-1zM120 447h1v1h-1zM119 442h1v1h-1zM119 441h1v1h-1zM120 442h1v1h-1zM121 443h1v1h-1zM112 428h1v1h-1zM113 428h1v1h-1zM114 428h1v1h-1zM115 431h1v1h-1zM115 430h1v1h-1zM115 429h1v1h-1zM115 428h1v1h-1zM116 432h1v1h-1zM116 428h1v1h-1zM117 432h1v1h-1zM117 428h1v1h-1zM118 432h1v1h-1zM118 428h1v1h-1zM119 432h1v1h-1zM119 428h1v1h-1zM120 431h1v1h-1zM120 430h1v1h-1zM120 429h1v1h-1zM120 428h1v1h-1zM112 426h1v1h-1zM112 425h1v1h-1zM112 424h1v1h-1zM112 423h1v1h-1zM113 425h1v1h-1zM113 422h1v1h-1zM114 425h1v1h-1zM114 422h1v1h-1zM115 425h1v1h-1zM115 422h1v1h-1zM116 425h1v1h-1zM116 424h1v1h-1zM116 423h1v1h-1zM117 425h1v1h-1zM117 422h1v1h-1zM118 425h1v1h-1zM118 422h1v1h-1zM119 425h1v1h-1zM119 422h1v1h-1zM120 426h1v1h-1zM120 425h1v1h-1zM120 424h1v1h-1zM120 423h1v1h-1z" fill="#000"/>
</svg>
</body></html>
